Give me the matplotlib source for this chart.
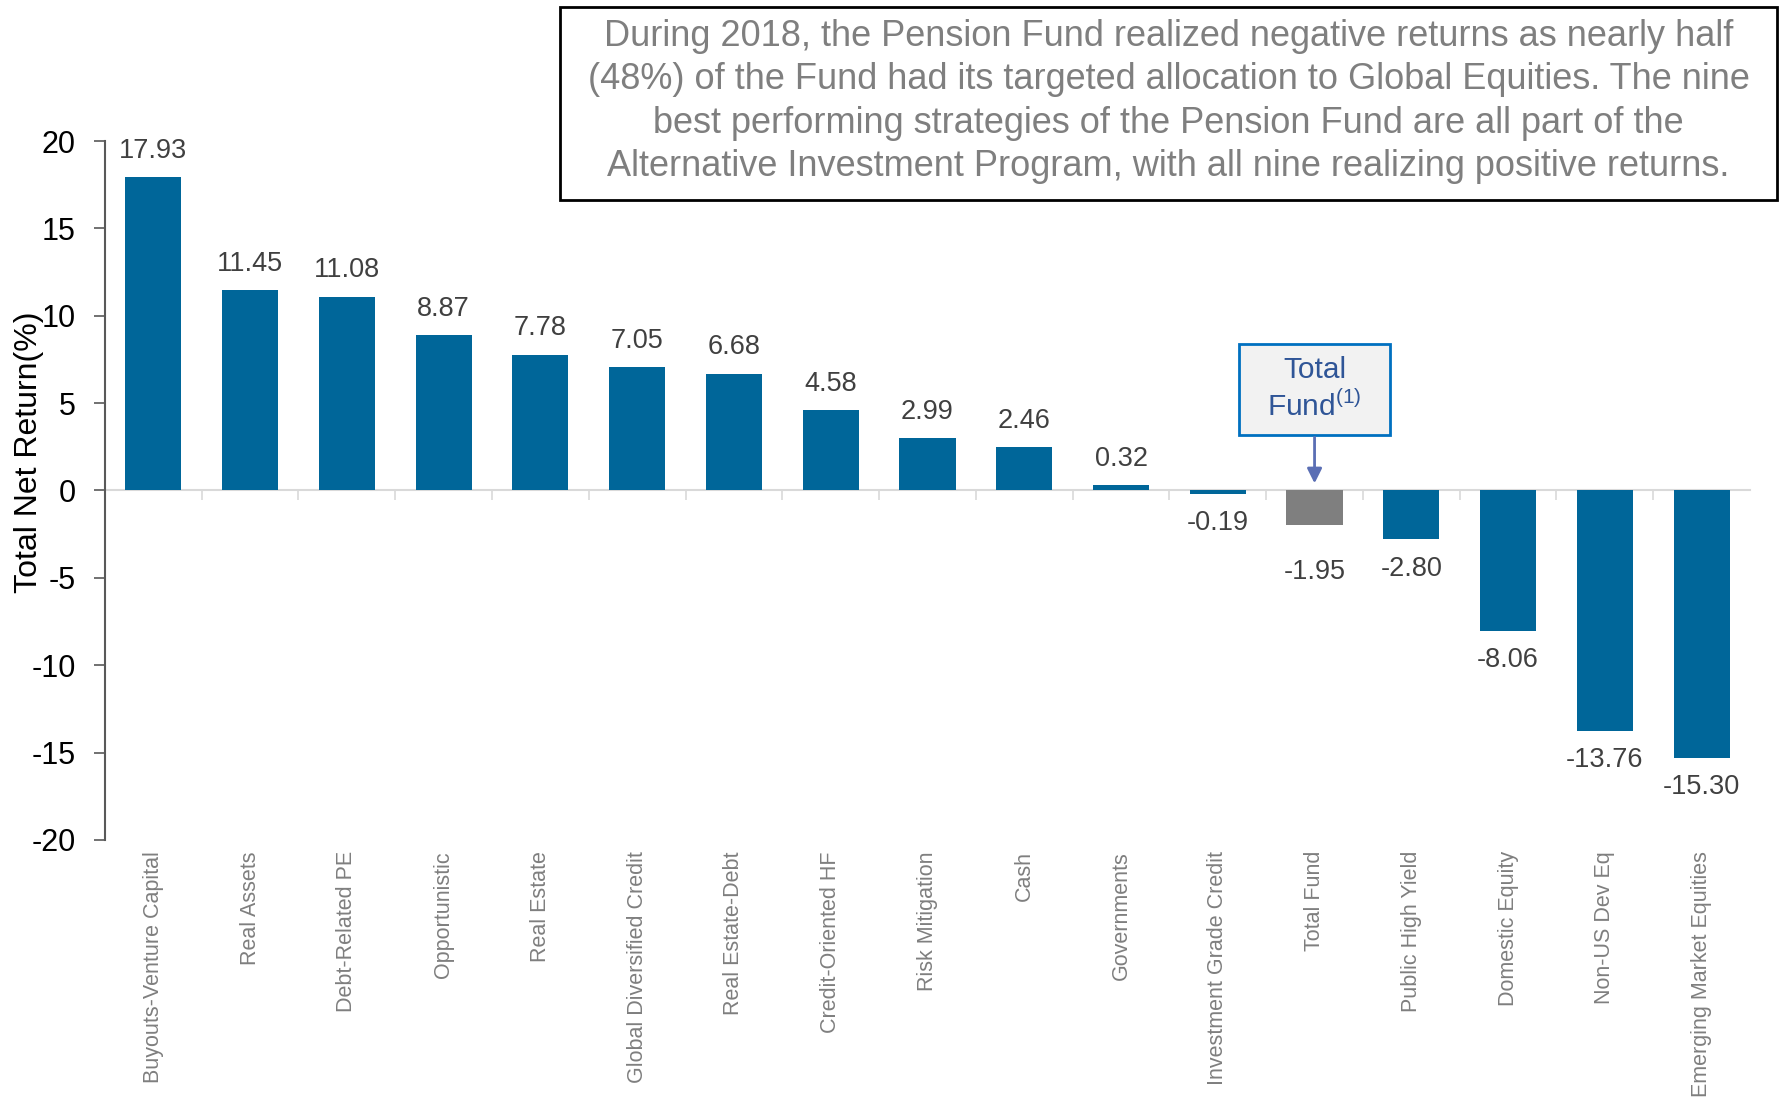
#!/usr/bin/env python3

# 2018 total net return by strategy, bar chart with a note box and a "Total Fund" callout.

import matplotlib as mpl
import matplotlib.pyplot as plt
from matplotlib.patches import Rectangle

mpl.rcParams['font.family'] = ['Liberation Sans', 'DejaVu Sans']
mpl.rcParams['mathtext.fontset'] = 'custom'
mpl.rcParams['mathtext.rm'] = 'Liberation Sans'
mpl.rcParams['axes.unicode_minus'] = False

# Data
strategies = ["Buyouts-Venture Capital", "Real Assets", "Debt-Related PE", "Opportunistic",
              "Real Estate", "Global Diversified Credit", "Real Estate-Debt", "Credit-Oriented HF",
              "Risk Mitigation", "Cash", "Governments", "Investment Grade Credit", "Total Fund",
              "Public High Yield", "Domestic Equity", "Non-US Dev Eq", "Emerging Market Equities"]
returns = [17.93, 11.45, 11.08, 8.87, 7.78, 7.05, 6.68, 4.58, 2.99, 2.46, 0.32,
           -0.19, -1.95, -2.80, -8.06, -13.76, -15.30]
highlight = "Total Fund"
yticks = [20, 15, 10, 5, 0, -5, -10, -15, -20]
note = ("During 2018, the Pension Fund realized negative returns as nearly half\n"
        "(48%) of the Fund had its targeted allocation to Global Equities. The nine\n"
        "best performing strategies of the Pension Fund are all part of the\n"
        "Alternative Investment Program, with all nine realizing positive returns.")

blue = '#006699'
grey_bar = '#7f7f7f'

fig = plt.figure(figsize=(17.85, 10.99), dpi=100)
ax = fig.add_axes([0.0588, 0.2357, 0.9216, 0.636])

x = list(range(len(strategies)))
colors = [grey_bar if s == highlight else blue for s in strategies]
bars = ax.bar(x, returns, width=0.58, color=colors, zorder=3)

# value labels
for xi, s, v in zip(x, strategies, returns):
    if v >= 0:
        off = 19
    else:
        off = -34 if s == highlight else -21
    ax.annotate(f"{v:.2f}", xy=(xi, v), xytext=(0, off), textcoords='offset points',
                ha='center', va='center', fontsize=19.5, color='#404040')

ax.set_xlim(-0.5, len(strategies) - 0.5)
ax.set_ylim(-20, 20)
ax.set_yticks(yticks)
ax.tick_params(axis='y', labelsize=22, length=8, width=1.2, color='#595959', pad=13)

for s in ['top', 'right']:
    ax.spines[s].set_visible(False)
ax.spines['left'].set_color('#595959')
ax.spines['left'].set_linewidth(1.5)
ax.spines['bottom'].set_position(('data', 0))
ax.spines['bottom'].set_color('#d9d9d9')
ax.spines['bottom'].set_linewidth(1.5)
ax.spines['bottom'].set_zorder(2)

# separators on the zero line
ax.set_xticks([i + 0.5 for i in x[:-1]])
ax.set_xticklabels([])
ax.tick_params(axis='x', length=7, width=1.2, color='#d9d9d9', direction='out')

# category labels along the bottom
sec = ax.secondary_xaxis(0.0)
sec.set_xticks(x)
sec.set_xticklabels(strategies, rotation=90, fontsize=15.5, color='#7f7f7f', va='top')
sec.tick_params(length=0, pad=8)
sec.spines['bottom'].set_visible(False)

ax.set_ylabel("Total Net Return(%)", fontsize=23)
ax.yaxis.set_label_coords(-0.037, 0.555)

# callout for Total Fund
i_tf = strategies.index(highlight)
ax.add_patch(Rectangle((i_tf - 0.78, 3.2), 1.56, 5.2, facecolor='#f2f2f2',
                       edgecolor='#0070c0', lw=2, zorder=4))
ax.text(i_tf, 5.8, "Total\nFund$^{(1)}$", ha='center', va='center', fontsize=21.5,
        color='#2f5597', linespacing=1.25, zorder=5)
ax.annotate('', xy=(i_tf, 0.25), xytext=(i_tf, 3.2),
            arrowprops=dict(arrowstyle='-|>', color='#5a6eb4', lw=2, mutation_scale=22),
            zorder=5)

# note box
fig.patches.append(Rectangle((0.3137, 0.818), 0.6818, 0.1755, transform=fig.transFigure,
                             facecolor='white', edgecolor='black', lw=2))
fig.text(0.6546, 0.9075, note, ha='center', va='center', fontsize=26, color='#7f7f7f',
         linespacing=1.31)

fig.savefig("out.png", dpi=100)
